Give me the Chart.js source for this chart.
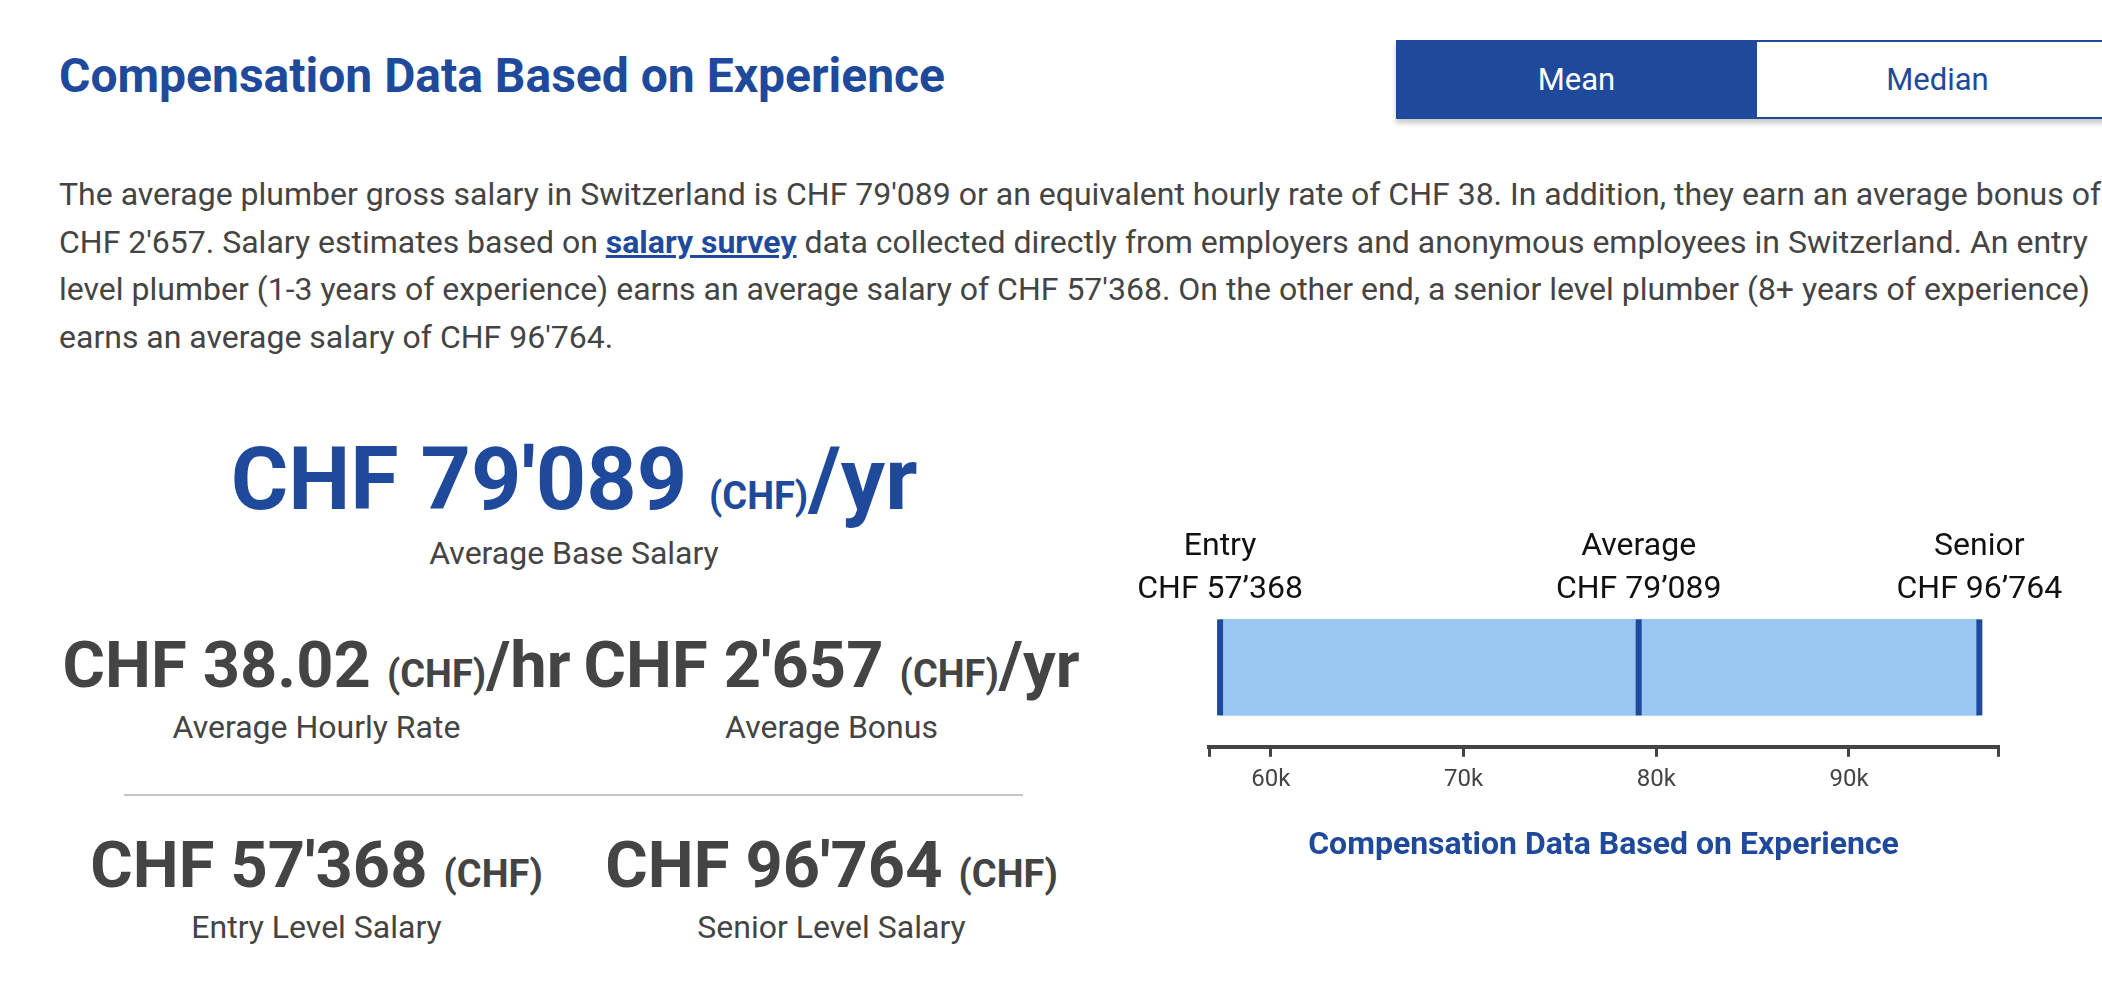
<!DOCTYPE html>
<html>
<head>
<meta charset="utf-8">
<title>Compensation Data Based on Experience</title>
<script src="https://cdn.jsdelivr.net/npm/chart.js@4.4.1/dist/chart.umd.min.js"></script>
<style>
  html, body { margin: 0; padding: 0; }
  body {
    width: 2102px; height: 994px; overflow: hidden; position: relative;
    background: #fff; font-family: Roboto, "Noto Sans", sans-serif; color: #444;
  }
  .blue { color: #1f4a9c; }
  h2 {
    position: absolute; left: 59px; top: 52px; margin: 0;
    font-size: 48px; line-height: 1; font-weight: 700; color: #1f4a9c;
  }
  .toggle {
    position: absolute; left: 1396px; top: 40px; height: 79px; width: 724px;
    display: flex; box-shadow: 0 4px 5px rgba(0,0,0,0.22);
  }
  .toggle div {
    flex: 1; text-align: center; font-size: 31px; line-height: 79px; box-sizing: border-box;
  }
  .toggle .on { background: #1f4a9c; color: #fff; }
  .toggle .off { background: #fff; color: #1f4a9c; border: 2px solid #1f4a9c; border-left: 0; line-height: 75px; }
  p.intro {
    position: absolute; left: 59px; top: 171px; margin: 0;
    font-size: 32px; line-height: 47.5px; white-space: nowrap;
  }
  p.intro a { color: #1f4a9c; font-weight: 700; text-decoration: underline; }
  .stat { position: absolute; text-align: center; white-space: nowrap; }
  .stat .val { font-weight: 700; line-height: 1; }
  .stat .unit { font-size: 38px; line-height: 1; }
  .stat .cap { font-size: 32px; line-height: 1; }
  .sep { position: absolute; left: 124px; top: 794px; width: 899px; height: 2px; background: #c4c4c4; }
  #chartBox { position: absolute; left: 1100px; top: 500px; width: 1000px; height: 390px; }
</style>
</head>
<body>
<h2>Compensation Data Based on Experience</h2>
<div class="toggle"><div class="on">Mean</div><div class="off">Median</div></div>

<p class="intro">The average plumber gross salary in Switzerland is CHF 79'089 or an equivalent hourly rate of CHF 38. In addition, they earn an average bonus of<br>CHF 2'657. Salary estimates based on <a href="#">salary survey</a> data collected directly from employers and anonymous employees in Switzerland. An entry<br>level plumber (1-3 years of experience) earns an average salary of CHF 57'368. On the other end, a senior level plumber (8+ years of experience)<br>earns an average salary of CHF 96'764.</p>

<div class="stat blue" style="left:59px; width:1030px; top:435px;">
  <div class="val" style="font-size:88px;">CHF 79'089 <span class="unit">(CHF)</span>/yr</div>
</div>
<div class="stat" style="left:59px; width:1030px; top:537px;"><div class="cap">Average Base Salary</div></div>

<div class="stat" style="left:59px; width:515px; top:633px;">
  <div class="val" style="font-size:65px;">CHF 38.02 <span class="unit">(CHF)</span>/hr</div>
</div>
<div class="stat" style="left:574px; width:515px; top:633px;">
  <div class="val" style="font-size:65px;">CHF 2'657 <span class="unit">(CHF)</span>/yr</div>
</div>
<div class="stat" style="left:59px; width:515px; top:711px;"><div class="cap">Average Hourly Rate</div></div>
<div class="stat" style="left:574px; width:515px; top:711px;"><div class="cap">Average Bonus</div></div>

<div class="sep"></div>

<div class="stat" style="left:59px; width:515px; top:833px;">
  <div class="val" style="font-size:65px;">CHF 57'368 <span class="unit">(CHF)</span></div>
</div>
<div class="stat" style="left:574px; width:515px; top:833px;">
  <div class="val" style="font-size:65px;">CHF 96'764 <span class="unit">(CHF)</span></div>
</div>
<div class="stat" style="left:59px; width:515px; top:911px;"><div class="cap">Entry Level Salary</div></div>
<div class="stat" style="left:574px; width:515px; top:911px;"><div class="cap">Senior Level Salary</div></div>

<div id="chartBox"><canvas id="salaryChart"></canvas></div>

<script>
// values
const levels = ['Entry', 'Average', 'Senior'];
const salaries = [57368, 79089, 96764];
const salaryLabels = ['CHF 57’368', 'CHF 79’089', 'CHF 96’764'];
const tickValues = [60000, 70000, 80000, 90000];
const tickLabels = ['60k', '70k', '80k', '90k'];
const axisMin = 56794;
const axisMax = 97732;

const BLUE = '#1f4a9c';
const LIGHT = '#9bc8f3';

// labels above the markers
const levelLabels = {
    id: 'levelLabels',
    afterDatasetsDraw(chart) {
        const ctx = chart.ctx;
        const xScale = chart.scales.x;
        const bar = chart.getDatasetMeta(0).data[0];
        const barTop = bar.y - bar.height / 2;
        ctx.save();
        ctx.fillStyle = '#111';
        ctx.font = '32px Roboto';
        ctx.textAlign = 'center';
        ctx.textBaseline = 'alphabetic';
        levels.forEach((name, i) => {
            const x = xScale.getPixelForValue(salaries[i]);
            ctx.fillText(name, x, barTop - 64);
            ctx.fillText(salaryLabels[i], x, barTop - 21);
        });
        ctx.restore();
    }
};

document.addEventListener('DOMContentLoaded', function() {
    // one marker dataset per level, a vertical line at each salary, drawn over the bar
    const markers = salaries.map(v => ({
        type: 'line',
        order: 0,
        data: [{ x: v, y: 'Salary' }],
        showLine: false,
        pointStyle: 'line',
        pointRotation: 90,
        pointRadius: 48,
        pointBorderWidth: 6,
        pointBorderColor: BLUE,
        borderColor: BLUE,
        clip: false
    }));

    const ctx = document.getElementById('salaryChart').getContext('2d');
    new Chart(ctx, {
        type: 'bar',
        data: {
            labels: ['Salary'],
            datasets: [{
                order: 1,
                data: [[salaries[0], salaries[2]]],
                backgroundColor: LIGHT,
                borderWidth: 0,
                barThickness: 96
            }, ...markers]
        },
        options: {
            indexAxis: 'y',
            responsive: true,
            maintainAspectRatio: false,
            animation: false,
            events: [],
            layout: { padding: { left: 109, right: 102, top: 88, bottom: 25 } },
            scales: {
                y: { display: false },
                x: {
                    type: 'linear',
                    min: axisMin,
                    max: axisMax,
                    afterBuildTicks: scale => {
                        scale.ticks = [axisMin, ...tickValues, axisMax].map(v => ({ value: v }));
                    },
                    border: { display: true, width: 4, color: '#444' },
                    grid: { drawOnChartArea: false, drawTicks: true, tickLength: 10, lineWidth: 3, color: '#444' },
                    ticks: {
                        autoSkip: false,
                        maxRotation: 0,
                        padding: 9,
                        color: '#444',
                        font: { family: 'Roboto', size: 24 },
                        callback: value => {
                            const i = tickValues.indexOf(value);
                            return i >= 0 ? tickLabels[i] : '';
                        }
                    }
                }
            },
            plugins: {
                legend: { display: false },
                tooltip: { enabled: false },
                title: {
                    display: true,
                    position: 'bottom',
                    text: 'Compensation Data Based on Experience',
                    color: BLUE,
                    font: { family: 'Roboto', size: 32, weight: 'bold' },
                    padding: { top: 23, bottom: 0 }
                }
            }
        },
        plugins: [levelLabels]
    });
});
</script>
</body>
</html>
